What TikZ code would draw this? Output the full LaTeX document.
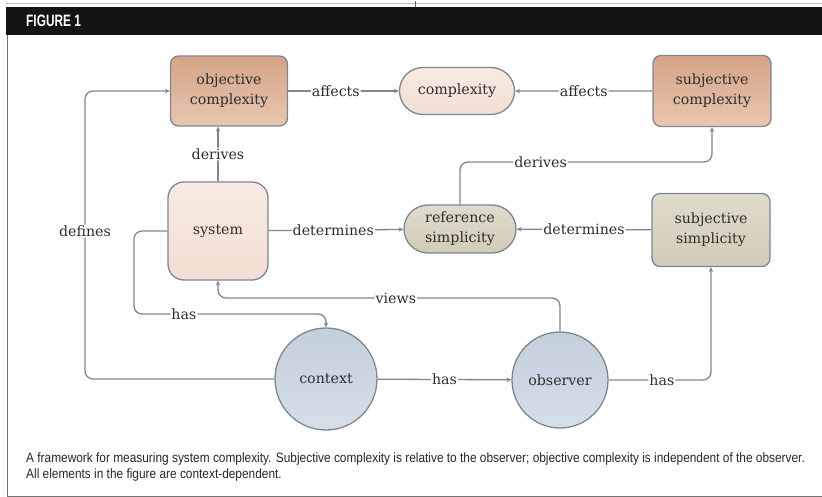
\documentclass[tikz,border=0pt]{standalone}
\usepackage{fontspec}
\usepackage{tikz}
\usetikzlibrary{arrows.meta,positioning,shapes.misc,calc}
\newfontfamily\capfont[FakeStretch=0.88]{Liberation Sans}
\newfontfamily\headfont[FakeStretch=0.72]{Liberation Sans}
\newfontfamily\boxfont{DejaVu Serif}
\definecolor{edgegrey}{HTML}{7C8792}
\definecolor{rimgrey}{HTML}{7E8690}
\definecolor{inkdark}{HTML}{2E2E2E}
\definecolor{peachtop}{HTML}{D5A486}
\definecolor{peachbot}{HTML}{E8C6B0}
\definecolor{blushtop}{HTML}{F8EBE3}
\definecolor{blushbot}{HTML}{F2DED2}
\definecolor{sandtop}{HTML}{E0DBCD}
\definecolor{sandbot}{HTML}{D2CBB8}
\definecolor{skytop}{HTML}{C4CFDC}
\definecolor{skybot}{HTML}{D6DEE8}
\tikzset{
  >={Stealth[length=5pt,width=4.5pt]},
  % knoten
  cbox/.style={rectangle,rounded corners=8pt,draw=rimgrey,line width=1.3pt,
               align=center,text=inkdark,font=\boxfont\fontsize{14.2}{20}\selectfont,inner sep=2pt},
  pill/.style={rounded rectangle,draw=rimgrey,line width=1.3pt,align=center,
               text=inkdark,font=\boxfont\fontsize{14.2}{20}\selectfont,inner sep=2pt},
  disc/.style={circle,draw=rimgrey,line width=1.3pt,text=inkdark,
               font=\boxfont\fontsize{14.2}{20}\selectfont,inner sep=0pt,
               top color=skytop,bottom color=skybot},
  peach/.style={top color=peachtop,bottom color=peachbot},
  blush/.style={top color=blushtop,bottom color=blushbot},
  sand/.style={top color=sandtop,bottom color=sandbot},
  % kanten
  edge/.style={->,draw=edgegrey,line width=1.3pt,rounded corners=8pt},
  lbl/.style={fill=white,inner sep=1pt,text=inkdark,font=\boxfont\fontsize{14.2}{20}\selectfont},
}
\begin{document}
\begin{tikzpicture}[x=1pt,y=-1pt]
  \useasboundingbox (0,0) rectangle (822,497);
  % rahmen
  \draw[black!25,line width=0.8pt] (6,3.5) -- (822,3.5);
  \draw[black!60,line width=0.8pt] (415,1) -- (415,8);
  \fill[black!92] (6,7) rectangle (822,35);
  \node[anchor=base west,text=white,font=\headfont\bfseries\fontsize{16.5}{18}\selectfont,inner sep=0pt]
    (figlabel) at (26,27) {FIGURE 1};
  \draw[black!55,line width=1pt] (7,35) -- (7,496) -- (822,496);
  % knoten
  \node[cbox,peach,minimum width=117,minimum height=70] (objc) at (229,91) {objective\\complexity};
  \node[pill,blush,minimum width=119,minimum height=47] (cplx) at (457,91) {complexity};
  \node[cbox,peach,minimum width=118,minimum height=71] (subjc) at (712,91) {subjective\\complexity};
  \node[cbox,blush,rounded corners=16pt,minimum width=100,minimum height=98] (sys) at (218,231) {system};
  \node[pill,sand,minimum width=116,minimum height=48] (refs) at (460,229) {reference\\simplicity};
  \node[cbox,sand,minimum width=118,minimum height=73] (subjs) at (711,230) {subjective\\simplicity};
  \node[disc,minimum size=102] (ctx) at (326,379) {context};
  \node[disc,minimum size=96] (obs) at (560,380) {observer};
  % knickpunkte
  \coordinate (defx) at (85,231);
  \coordinate (hasbend) at (134,314);
  \coordinate (viewbend) at (560,298);
  \coordinate (dvbend) at (712,162);
  % kanten
  \draw[edge] (objc) -- node[lbl,pos=0.43]{affects} (cplx);
  \draw[edge] (subjc) -- node[lbl]{affects} (cplx);
  \draw[edge] (sys.north) -- node[lbl]{derives} (sys.north |- objc.south);
  \draw[edge] (sys) -- node[lbl,pos=0.48]{determines} (refs);
  \draw[edge] (subjs) -- node[lbl]{determines} (refs);
  \draw[edge] (refs.north) |- node[lbl,pos=0.66]{derives} (dvbend) -- (subjc.south);
  \draw[edge] (ctx.west) -| (defx) node[lbl]{defines} |- (objc.west);
  \draw[edge] (sys.west) -| (hasbend) -| node[lbl,pos=0.13]{has} (ctx.north);
  \draw[edge] (obs.north) -- (viewbend) -| node[lbl,pos=0.24]{views} (sys.south);
  \draw[edge] (ctx) -- node[lbl,pos=0.5]{has} (obs);
  \draw[edge] (obs.east) -| node[lbl,pos=0.26]{has} (subjs.south);
  % unterschrift
  \node[anchor=base west,align=left,inner sep=0pt,text=black!85,
        font=\capfont\fontsize{13.5}{16}\selectfont] (caption) at (26,478)
    {A framework for measuring system complexity. Subjective complexity is relative to the observer; objective complexity is independent of the observer.\\
     All elements in the figure are context-dependent.};
\end{tikzpicture}
\end{document}
